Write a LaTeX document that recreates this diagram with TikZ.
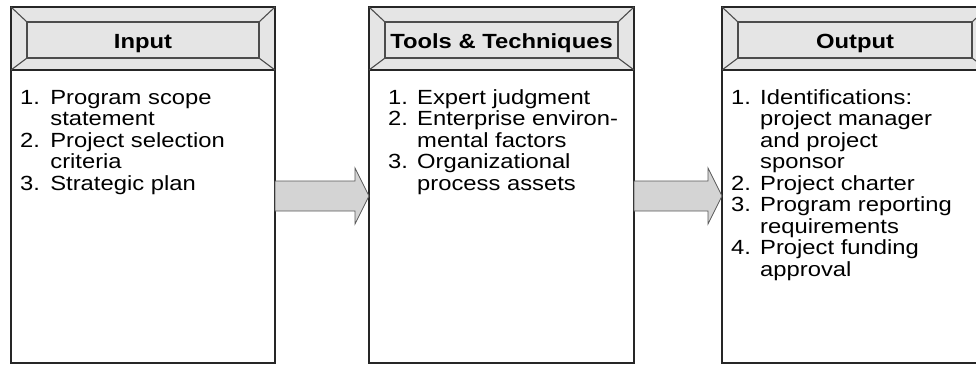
\documentclass[tikz,border=0pt]{standalone}
\usepackage{fontspec}
\setmainfont{Liberation Sans}
\usetikzlibrary{calc}

\newcommand{\boxfont}{\fontsize{20.5}{21.5}\selectfont}
\newcommand{\widetext}[1]{\scalebox{1.16}[1]{#1}}

\tikzset{
    panel/.style={draw=black!85, line width=1.6pt, inner sep=0pt, outer sep=0pt, minimum height=293pt, anchor=north west},
    headbox/.style={draw=black!85, line width=1.2pt, fill=black!10, inner sep=0pt, outer sep=0pt, minimum height=63pt, anchor=south west},
    headlabel/.style={inner sep=0pt, font=\boxfont\bfseries, text height=14.7pt, text depth=0pt},
    bevel/.style={draw=black!70, line width=1.1pt},
    items/.style={anchor=base west, inner sep=0pt, font=\boxfont},
    flowarrow/.style={draw=black!65, line width=0.8pt, fill=black!17, line join=miter}
}

\begin{document}
        \begin{tikzpicture}[x=1pt, y=-1pt]
            \useasboundingbox (0,0) rectangle (976,365);

            \clip (0,0) rectangle (976,365);

            \node[panel, minimum width=264pt] (input) at (11,70) {};

            \node[panel, minimum width=265pt] (tools) at (369,70) {};

            \node[panel, minimum width=266pt] (output) at (722,70) {};

            \node[headbox, minimum width=264pt] (inputhead) at (input.north west) {};

            \node[headbox, minimum width=265pt] (toolshead) at (tools.north west) {};

            \node[headbox, minimum width=266pt] (outputhead) at (output.north west) {};

            \foreach \h in {inputhead, toolshead, outputhead} {
                \draw[bevel] ($(\h.north west)+(16,15)$) rectangle ($(\h.south east)+(-16,-12)$);
                \draw[bevel] (\h.north west) -- ++(16,15);
                \draw[bevel] (\h.north east) -- ++(-16,15);
                \draw[bevel] (\h.south west) -- ++(16,-12);
                \draw[bevel] (\h.south east) -- ++(-16,-12);
            }

            \node[headlabel] (inputtitle) at ($(inputhead.center)+(0,3)$) {\widetext{Input}};

            \node[headlabel] (toolstitle) at ($(toolshead.center)+(0,3)$) {\widetext{Tools \& Techniques}};

            \node[headlabel] (outputtitle) at ($(outputhead.center)+(0,3)$) {\widetext{Output}};

            \node[items] (inputlist) at ($(input.north west)+(9,34)$) {\widetext{%
                \begin{tabular}[t]{@{}p{26pt}@{}l@{}}
                    1. & Program scope\\
                       & statement\\
                    2. & Project selection\\
                       & criteria\\
                    3. & Strategic plan
                \end{tabular}}};

            \node[items] (toolslist) at ($(tools.north west)+(19,34)$) {\widetext{%
                \begin{tabular}[t]{@{}p{25pt}@{}l@{}}
                    1. & Expert judgment\\
                    2. & Enterprise environ-\\
                       & mental factors\\
                    3. & Organizational\\
                       & process assets
                \end{tabular}}};

            \node[items] (outputlist) at ($(output.north west)+(9,34)$) {\widetext{%
                \begin{tabular}[t]{@{}p{25pt}@{}l@{}}
                    1. & Identifications:\\
                       & project manager\\
                       & and project\\
                       & sponsor\\
                    2. & Project charter\\
                    3. & Program reporting\\
                       & requirements\\
                    4. & Project funding\\
                       & approval
                \end{tabular}}};

            \foreach \s/\e in {input/tools, tools/output} {
                \draw[flowarrow] ($(\s.north east)+(0,111)$) -- ($(\e.north west)+(-14,111)$)
                    -- ($(\e.north west)+(-14,98)$) -- ($(\e.north west)+(0,126)$)
                    -- ($(\e.north west)+(-14,154)$) -- ($(\e.north west)+(-14,141)$)
                    -- ($(\s.north east)+(0,141)$) -- cycle;
            }
        \end{tikzpicture}
\end{document}
